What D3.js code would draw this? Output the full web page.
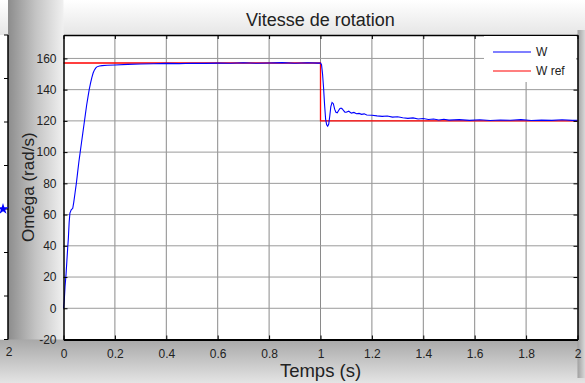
<!DOCTYPE html>
<html>
<head>
<meta charset="utf-8">
<script src="https://cdn.jsdelivr.net/npm/d3@7"></script>
<style>
  body { margin: 0; background: #fff; }
  svg text { font-family: "Liberation Sans", Arial, sans-serif; fill: #222; }
</style>
</head>
<body>
<div id="chart"></div>
<script>
// temps (s) et vitesse mesurée W (rad/s)
const timeW = [0, 0.003, 0.006, 0.010, 0.013, 0.016, 0.019, 0.022, 0.025, 0.030, 0.036, 0.040, 0.045,
  0.050, 0.055, 0.060, 0.065, 0.070, 0.075, 0.080, 0.085, 0.090, 0.095, 0.100, 0.105, 0.110, 0.115,
  0.120, 0.125, 0.130, 0.140, 0.150, 0.170, 0.200, 0.250, 0.300, 0.350, 0.400, 0.450, 0.500, 0.550,
  0.600, 0.650, 0.700, 0.750, 0.800, 0.850, 0.900, 0.950, 0.990,
  1.000, 1.004, 1.008, 1.012, 1.016, 1.020, 1.024, 1.028, 1.032, 1.036, 1.040, 1.045, 1.050, 1.055,
  1.060, 1.065, 1.070, 1.075, 1.080, 1.085, 1.090, 1.095, 1.100, 1.110, 1.120, 1.130, 1.140, 1.150,
  1.160, 1.170, 1.180, 1.200, 1.220, 1.240, 1.260, 1.280, 1.300, 1.320, 1.340, 1.360, 1.380, 1.400,
  1.420, 1.440, 1.460, 1.480, 1.500, 1.540, 1.580, 1.620, 1.660, 1.700, 1.740, 1.780, 1.820, 1.860,
  1.900, 1.940, 1.980, 2.000];
const valuesW = [0, 5, 14, 22, 30, 38, 45, 55, 61, 63, 64, 68, 74,
  80, 87, 94, 100, 106, 112, 118, 124, 130, 135, 140, 144, 147.5, 150.5,
  152.5, 153.8, 154.6, 155.2, 155.4, 155.6, 155.8, 156.2, 156.4, 156.6, 156.8, 156.7, 156.9, 156.8,
  157.0, 156.9, 157.2, 156.9, 157.1, 157.3, 156.9, 157.2, 157.0,
  157, 156, 150, 141, 130, 121, 117.5, 116.6, 118, 123, 129, 131.8, 131, 127.5,
  125.5, 125.2, 126.5, 127.8, 128.2, 127.6, 126.5, 125.6, 125.5, 126.2, 125.0, 125.4, 124.6, 124.8,
  124.2, 124.5, 123.8, 123.6, 123.2, 122.9, 123.1, 122.4, 122.6, 122.0, 121.6, 121.9, 121.2, 121.5,
  120.9, 121.2, 120.6, 121.0, 120.5, 120.8, 120.3, 120.7, 120.2, 120.6, 120.4, 120.8, 120.2, 120.5,
  120.3, 120.7, 120.3, 120.4];

// consigne W ref
const timeRef = [0, 1, 1, 2];
const valuesRef = [157.08, 157.08, 120, 120];

const xTicks = [0, 0.2, 0.4, 0.6, 0.8, 1, 1.2, 1.4, 1.6, 1.8, 2];
const yTicks = [-20, 0, 20, 40, 60, 80, 100, 120, 140, 160];
const seriesNames = ["W", "W ref"];
const seriesColors = ["#0000ff", "#ff0000"];

const W = 585, H = 383;
const m = { left: 63.5, right: 577.5, top: 35, bottom: 339.5 };

const svg = d3.select("#chart").append("svg")
  .attr("width", W).attr("height", H);

const defs = svg.append("defs");
const lg = (id, x1, y1, x2, y2, stops) => {
  const g = defs.append("linearGradient").attr("id", id)
    .attr("x1", x1).attr("y1", y1).attr("x2", x2).attr("y2", y2);
  stops.forEach(s => g.append("stop").attr("offset", s[0]).attr("stop-color", s[1]));
};
lg("gTop", 0, 0, 0, 1, [[0, "#ffffff"], [1, "#e6e6e6"]]);
lg("gLeft", 0, 0, 1, 0, [[0, "#8c8c8c"], [0.5, "#c4c4c4"], [1, "#f0f0f0"]]);
lg("gBottom", 0, 0, 0, 1, [[0, "#a8a8a8"], [1, "#e4e4e4"]]);
lg("gRight", 0, 0, 1, 0, [[0, "#a0a0a0"], [1, "#d8d8d8"]]);

// fond
svg.append("rect").attr("width", W).attr("height", H).attr("fill", "#ececec");
svg.append("rect").attr("x", 0).attr("y", 0).attr("width", W).attr("height", m.top)
  .attr("fill", "url(#gTop)");
svg.append("rect").attr("x", 8).attr("y", 0).attr("width", m.left - 8).attr("height", H)
  .attr("fill", "url(#gLeft)");
svg.append("rect").attr("x", 0).attr("y", m.bottom).attr("width", W).attr("height", H - m.bottom)
  .attr("fill", "url(#gBottom)");
svg.append("rect").attr("x", m.right).attr("y", m.top - 5).attr("width", W - m.right).attr("height", H - m.top)
  .attr("fill", "url(#gRight)");

// bout de la figure précédente à gauche
svg.append("rect").attr("x", 0).attr("y", m.top).attr("width", 8).attr("height", m.bottom - m.top)
  .attr("fill", "#fff");
svg.append("line").attr("x1", 8).attr("x2", 8).attr("y1", m.top).attr("y2", m.bottom)
  .attr("stroke", "#000").attr("stroke-width", 1.5);
const prevTicks = d3.scaleLinear().domain([0, 7]).range([m.top, m.bottom]);
svg.append("g").selectAll("line").data(d3.range(8)).join("line")
  .attr("x1", 4).attr("x2", 8).attr("y1", d => prevTicks(d)).attr("y2", d => prevTicks(d))
  .attr("stroke", "#000");
svg.append("text").attr("x", 9).attr("y", 356).attr("text-anchor", "middle")
  .style("font-size", "12px").text("2");
svg.append("path").attr("transform", "translate(3,209)")
  .attr("d", d3.symbol(d3.symbolStar, 40)).attr("fill", "#0000ff");

// zone du tracé
svg.append("rect").attr("x", m.left).attr("y", m.top)
  .attr("width", m.right - m.left).attr("height", m.bottom - m.top).attr("fill", "#fff");

const x = d3.scaleLinear().domain([0, 2]).range([m.left, m.right]);
const y = d3.scaleLinear().domain([-20, 175]).range([m.bottom, m.top]);

// grille
const grid = svg.append("g");
grid.selectAll(".vg").data(xTicks.slice(1, -1)).join("line")
  .attr("x1", d => x(d)).attr("x2", d => x(d)).attr("y1", m.top).attr("y2", m.bottom)
  .attr("stroke", "#8a8a8a").attr("stroke-width", 1);
grid.selectAll(".hg").data(yTicks.slice(1)).join("line")
  .attr("x1", m.left).attr("x2", m.right).attr("y1", d => y(d)).attr("y2", d => y(d))
  .attr("stroke", "#9a9a9a").attr("stroke-width", 1);

// courbes
const line = d3.line().x(d => x(d[0])).y(d => y(d[1]));
svg.append("path").datum(d3.zip(timeRef, valuesRef)).attr("d", line)
  .attr("fill", "none").attr("stroke", seriesColors[1]).attr("stroke-width", 1.3);
svg.append("path").datum(d3.zip(timeW, valuesW)).attr("d", line)
  .attr("fill", "none").attr("stroke", seriesColors[0]).attr("stroke-width", 1.1);

// axes (ticks vers l'intérieur, style MATLAB)
const fmt = d => String(d);
svg.append("g").attr("transform", `translate(0,${m.bottom})`)
  .call(d3.axisBottom(x).tickValues(xTicks).tickFormat(fmt).tickSizeInner(-4).tickSizeOuter(0).tickPadding(10))
  .call(g => g.select(".domain").attr("stroke-width", 2))
  .call(g => g.selectAll("text").style("font-size", "12px").attr("fill", "#222"));
svg.append("g").attr("transform", `translate(0,${m.top})`)
  .call(d3.axisTop(x).tickValues(xTicks).tickFormat("").tickSizeInner(-4).tickSizeOuter(0))
  .call(g => g.select(".domain").attr("stroke-width", 1.5));
svg.append("g").attr("transform", `translate(${m.left},0)`)
  .call(d3.axisLeft(y).tickValues(yTicks).tickFormat(fmt).tickSizeInner(-4).tickSizeOuter(0).tickPadding(7))
  .call(g => g.select(".domain").attr("stroke-width", 1.5))
  .call(g => g.selectAll("text").style("font-size", "12px").attr("fill", "#222"));
svg.append("g").attr("transform", `translate(${m.right},0)`)
  .call(d3.axisRight(y).tickValues(yTicks).tickFormat("").tickSizeInner(-4).tickSizeOuter(0))
  .call(g => g.select(".domain").attr("stroke-width", 1.5));

// légende
const leg = svg.append("g");
leg.append("rect").attr("x", 484).attr("y", m.top + 1).attr("width", m.right - 485).attr("height", 46)
  .attr("fill", "#fff");
seriesNames.forEach((n, i) => {
  const ly = 52 + i * 19;
  leg.append("line").attr("x1", 493).attr("x2", 531).attr("y1", ly).attr("y2", ly)
    .attr("stroke", seriesColors[i]).attr("stroke-width", 1.2);
  leg.append("text").attr("x", 536).attr("y", ly + 4).style("font-size", "12px").text(n);
});

// titres
svg.append("text").attr("x", x(1)).attr("y", 26).attr("text-anchor", "middle")
  .style("font-size", "18px").text("Vitesse de rotation");
svg.append("text").attr("x", x(1)).attr("y", 377).attr("text-anchor", "middle")
  .style("font-size", "18.5px").text("Temps (s)");
svg.append("text").attr("transform", `translate(34,${(m.top + m.bottom) / 2}) rotate(-90)`)
  .attr("text-anchor", "middle").style("font-size", "17px").text("Oméga (rad/s)");
</script>
</body>
</html>
